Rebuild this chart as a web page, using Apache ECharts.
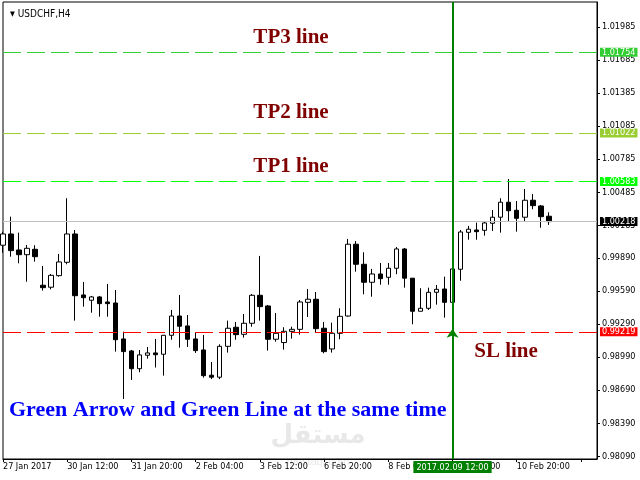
<!DOCTYPE html>
<html>
<head>
<meta charset="utf-8">
<script src="https://cdn.jsdelivr.net/npm/echarts@6/dist/echarts.min.js"></script>
<style>
  html, body { margin: 0; padding: 0; background: #fff; }
  #chart { width: 640px; height: 480px; }
</style>
</head>
<body>
<div id="chart"></div>
<script>
// USDCHF H4 bars
const opens = [1.00004, 1.00106, 0.99961, 0.99918, 0.99967, 0.99641, 0.99623, 0.99728, 0.99849, 1.00106,
  0.99553, 0.99505, 0.99535, 0.99489, 0.99480, 0.99154, 0.99045, 0.98884, 0.99006, 0.99027,
  0.99015, 0.99187, 0.99362, 0.99272, 0.99154, 0.99054, 0.98825, 0.98807, 0.99087, 0.99260,
  0.99196, 0.99296, 0.99550, 0.99453, 0.99151, 0.99121, 0.99223, 0.99241, 0.99486, 0.99514,
  0.99251, 0.99063, 0.99205, 0.99362, 1.00013, 0.99831, 0.99668, 0.99743, 0.99713, 0.99795,
  0.99970, 0.99705, 0.99405, 0.99432, 0.99577, 0.99607, 0.99486, 0.99786, 1.00121, 1.00142,
  1.00139, 1.00203, 1.00258, 1.00394, 1.00321, 1.00258, 1.00412, 1.00360, 1.00267]
const closes = [1.00106, 0.99955, 0.99918, 0.99976, 0.99900, 0.99619, 0.99731, 0.99852, 1.00106, 0.99546,
  0.99528, 0.99535, 0.99474, 0.99474, 0.99147, 0.99039, 0.98884, 0.99009, 0.99027, 0.99011,
  0.99187, 0.99362, 0.99269, 0.99151, 0.99048, 0.98821, 0.98807, 0.99087, 0.99251, 0.99193,
  0.99296, 0.99550, 0.99447, 0.99151, 0.99205, 0.99223, 0.99241, 0.99489, 0.99514, 0.99247,
  0.99039, 0.99205, 0.99359, 1.00013, 0.99831, 0.99668, 0.99743, 0.99701, 0.99795, 0.99970,
  0.99705, 0.99405, 0.99432, 0.99577, 0.99604, 0.99486, 0.99789, 1.00124, 1.00149, 1.00127,
  1.00206, 1.00258, 1.00394, 1.00317, 1.00248, 1.00412, 1.00363, 1.00263, 1.00218]
const lows = [0.99936, 0.99900, 0.99840, 0.99673, 0.99855, 0.99592, 0.99604, 0.99719, 0.99831, 0.99320,
  0.99447, 0.99392, 0.99356, 0.99356, 0.99039, 0.98609, 0.98782, 0.98852, 0.98975, 0.98895,
  0.98821, 0.99147, 0.99075, 0.99081, 0.99027, 0.98803, 0.98790, 0.98790, 0.99030, 0.99147,
  0.99166, 0.99265, 0.99320, 0.99048, 0.99129, 0.99057, 0.99157, 0.99193, 0.99353, 0.99214,
  0.99024, 0.99030, 0.99151, 0.99356, 0.99764, 0.99559, 0.99537, 0.99646, 0.99646, 0.99741,
  0.99619, 0.99287, 0.99405, 0.99417, 0.99465, 0.99347, 0.99480, 0.99682, 1.00054, 1.00054,
  1.00091, 1.00133, 1.00118, 1.00218, 1.00127, 1.00218, 1.00330, 1.00163, 1.00188]
const highs = [1.00127, 1.00263, 1.00118, 1.00006, 1.00004, 0.99816, 0.99743, 0.99925, 1.00430, 1.00142,
  0.99671, 0.99544, 0.99544, 0.99653, 0.99598, 0.99220, 0.99054, 0.99054, 0.99081, 0.99154,
  0.99190, 0.99417, 0.99553, 0.99371, 0.99217, 0.99190, 0.98945, 0.99105, 0.99320, 0.99308,
  0.99380, 0.99562, 0.99907, 0.99462, 0.99389, 0.99260, 0.99265, 0.99507, 0.99607, 0.99580,
  0.99308, 0.99302, 0.99432, 1.00061, 1.00042, 0.99940, 0.99789, 0.99843, 0.99843, 0.99988,
  0.99979, 0.99705, 0.99614, 0.99619, 0.99643, 0.99719, 0.99798, 1.00142, 1.00179, 1.00209,
  1.00224, 1.00324, 1.00430, 1.00605, 1.00405, 1.00514, 1.00469, 1.00369, 1.00303]

// x axis: one label every 8 bars
const tickLabels = ['27 Jan 2017', '30 Jan 12:00', '31 Jan 20:00', '2 Feb 04:00', '3 Feb 12:00',
  '6 Feb 20:00', '8 Feb 04:00', '9 Feb 12:00', '10 Feb 20:00']
const barsPerLabel = 8
const slotCount = 75 // 69 bars + empty space on the right

// y axis labels
const priceTicks = [1.01985, 1.01685, 1.01385, 1.01085, 1.00785, 1.00485, 1.00185,
  0.99890, 0.99590, 0.99290, 0.98990, 0.98690, 0.98390, 0.98090]

// levels
const tp3 = 1.01754
const tp2 = 1.01022
const tp1 = 1.00583
const lastPrice = 1.00218
const sl = 0.99219
const signalBar = 56
const signalTime = '2017.02.09 12:00'

const categories = []
for (let i = 0; i < slotCount; i++) categories.push('b' + i)
const candles = opens.map((o, i) => [o, closes[i], lows[i], highs[i]])

const axisFont = '"DejaVu Sans Condensed", "Liberation Sans", sans-serif'
const dash = [18, 6]

function levelLine(value, color, type, tagColor) {
  return {
    yAxis: value,
    lineStyle: { color: color, type: type, width: 1 },
    label: {
      show: true,
      position: 'end',
      distance: 3,
      formatter: value.toFixed(5),
      color: '#fff',
      backgroundColor: tagColor,
      fontSize: 9,
      fontFamily: axisFont,
      lineHeight: 9,
      padding: [0, 2, 0, 2]
    }
  }
}

const chart = echarts.init(document.getElementById('chart'))
const option = {
  animation: false,
  backgroundColor: '#fff',
  title: {
    text: '{t|▼} USDCHF,H4',
    left: 5,
    top: 4,
    textStyle: {
      color: '#000',
      fontSize: 10,
      fontWeight: 'normal',
      fontFamily: axisFont,
      rich: { t: { fontSize: 7, color: '#000' } }
    }
  },
  grid: {
    left: 3,
    right: 43,
    top: 2,
    bottom: 21,
    show: true,
    borderColor: '#000',
    borderWidth: 1
  },
  xAxis: {
    type: 'category',
    data: categories,
    boundaryGap: false,
    axisLine: { show: true, lineStyle: { color: '#000' } },
    axisTick: { show: true, interval: barsPerLabel - 1, length: 3, lineStyle: { color: '#000' } },
    axisLabel: {
      interval: barsPerLabel - 1,
      align: 'left',
      margin: 3,
      color: '#000',
      fontSize: 9,
      fontFamily: axisFont,
      formatter: (v, i) => tickLabels[i / barsPerLabel] || ''
    },
    splitLine: { show: false }
  },
  yAxis: {
    type: 'value',
    position: 'right',
    min: 0.98065,
    max: 1.0221,
    axisLine: { show: true, lineStyle: { color: '#000' } },
    axisTick: { show: true, length: 3, customValues: priceTicks, lineStyle: { color: '#000' } },
    axisLabel: {
      customValues: priceTicks,
      margin: 5,
      color: '#000',
      fontSize: 9,
      fontFamily: axisFont,
      formatter: v => v.toFixed(5)
    },
    splitLine: { show: false }
  },
  graphic: [
    { type: 'text', x: 318, y: 436, z: -1, style: { text: 'مستقل', fill: '#e8e8e8', font: 'bold 26px "DejaVu Sans", sans-serif', textAlign: 'center', textVerticalAlign: 'middle' } },
    { type: 'text', x: 318, y: 462, z: -1, style: { text: 'mostaql.com', fill: '#e8e8e8', font: '11px "Liberation Sans", sans-serif', textAlign: 'center', textVerticalAlign: 'middle' } },
    { type: 'text', x: 291, y: 38, style: { text: 'TP3 line', fill: '#800000', font: 'bold 21px "Liberation Serif", serif', textAlign: 'center', textVerticalAlign: 'middle' } },
    { type: 'text', x: 291, y: 113, style: { text: 'TP2 line', fill: '#800000', font: 'bold 21px "Liberation Serif", serif', textAlign: 'center', textVerticalAlign: 'middle' } },
    { type: 'text', x: 291, y: 167, style: { text: 'TP1 line', fill: '#800000', font: 'bold 21px "Liberation Serif", serif', textAlign: 'center', textVerticalAlign: 'middle' } },
    { type: 'text', x: 506, y: 352, style: { text: 'SL line', fill: '#800000', font: 'bold 21px "Liberation Serif", serif', textAlign: 'center', textVerticalAlign: 'middle' } },
    { type: 'text', x: 9, y: 410, style: { text: 'Green Arrow and Green Line at the same time', fill: '#0000ff', font: 'bold 22px "Liberation Serif", serif', textAlign: 'left', textVerticalAlign: 'middle' } }
  ],
  series: [{
    type: 'candlestick',
    data: candles,
    barWidth: 5,
    itemStyle: {
      color: '#fff',
      color0: '#000',
      borderColor: '#000',
      borderColor0: '#000',
      borderWidth: 1
    },
    markLine: {
      silent: true,
      symbol: 'none',
      precision: 5,
      data: [
        levelLine(tp3, '#32cd32', dash, '#32cd32'),
        levelLine(tp2, '#9acd32', dash, '#9acd32'),
        levelLine(tp1, '#00ff00', dash, '#00ff00'),
        levelLine(lastPrice, '#c0c0c0', 'solid', '#000'),
        levelLine(sl, '#ff0000', dash, '#ff0000'),
        {
          xAxis: signalBar,
          lineStyle: { color: '#008000', type: 'solid', width: 2 },
          label: {
            show: true,
            position: 'start',
            distance: 2,
            formatter: signalTime,
            color: '#fff',
            backgroundColor: '#008000',
            fontSize: 9,
            fontFamily: axisFont,
            padding: [2, 3, 1, 3]
          }
        }
      ]
    },
    markPoint: {
      silent: true,
      label: { show: false },
      data: [{
        coord: [signalBar, sl],
        symbol: 'arrow',
        symbolSize: [9, 9],
        symbolOffset: [0, -3],
        itemStyle: { color: '#008000' }
      }]
    }
  }]
}
chart.setOption(option)
</script>
</body>
</html>
